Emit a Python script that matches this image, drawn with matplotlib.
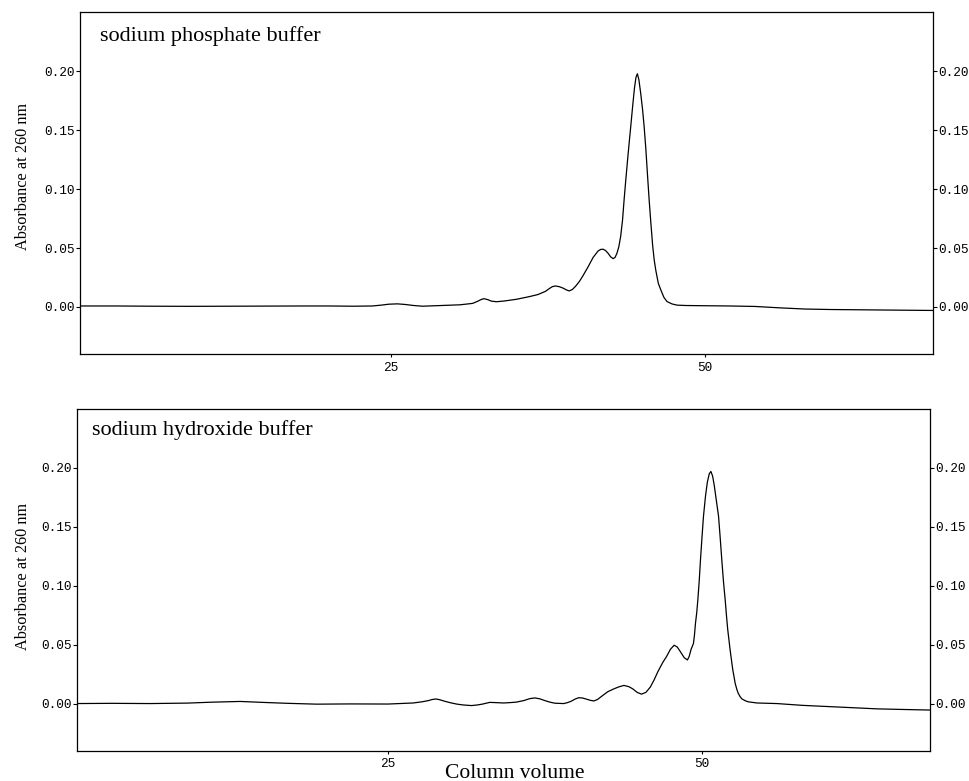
import matplotlib
matplotlib.use("Agg")
import matplotlib.pyplot as plt
from matplotlib.ticker import FormatStrFormatter

# column volume / absorbance
phos_x = [0, 3, 6, 9, 12, 15, 18, 20, 22, 23.5, 24.2, 24.8, 25.5, 26.1, 26.8, 27.5, 29,
          30.5, 31.5, 31.9, 32.2, 32.4, 32.7, 33.0, 33.4, 34, 35, 36, 36.7, 37.3, 37.6,
          37.85, 38.1, 38.4, 38.7, 39.0, 39.2, 39.45, 39.7, 40.0, 40.25, 40.7, 41.1, 41.5,
          41.7, 41.9, 42.1, 42.3, 42.5, 42.7, 42.85, 43.0, 43.15, 43.3, 43.45, 43.57, 43.7,
          43.85, 44.0, 44.1, 44.25, 44.4, 44.52, 44.63, 44.75, 44.9, 45.05, 45.17, 45.3,
          45.45, 45.57, 45.7, 45.85, 45.97, 46.1, 46.3, 46.5, 46.75, 47.0, 47.4, 47.8,
          48.5, 50, 52, 54, 56, 58, 60, 63, 66, 68.2]
phos_y = [0.0008, 0.0008, 0.0006, 0.0005, 0.0006, 0.0007, 0.0008, 0.0008, 0.0006, 0.0008,
          0.0015, 0.0023, 0.0026, 0.0021, 0.0012, 0.0006, 0.0012,
          0.0018, 0.003, 0.0048, 0.0064, 0.0070, 0.0062, 0.0049, 0.0044, 0.005, 0.0065,
          0.0087, 0.0105, 0.0132, 0.0155,
          0.0172, 0.0178, 0.0172, 0.0160, 0.0143, 0.0136, 0.0148, 0.0175, 0.0215, 0.0257,
          0.034, 0.042, 0.0475,
          0.0488, 0.049, 0.0478, 0.0455, 0.0425, 0.041, 0.042, 0.0455, 0.051, 0.060, 0.074,
          0.0907, 0.107,
          0.125, 0.142, 0.153, 0.170, 0.186, 0.195, 0.198, 0.193, 0.181, 0.167, 0.153, 0.135,
          0.110, 0.0907, 0.072, 0.052, 0.040, 0.031, 0.020, 0.0144, 0.008, 0.0045, 0.0025,
          0.0015,
          0.0012, 0.001, 0.0008, 0.0004, -0.0008, -0.0018, -0.0022, -0.0025, -0.0028, -0.003]

hydr_x = [0, 3, 6, 9, 11, 13.2, 15, 17, 19.3, 22, 25, 27, 27.7, 28.2, 28.5, 28.8, 29.1,
          29.5, 30.0, 30.5, 31.0, 31.65, 32.1, 32.5, 33.1, 33.6, 34.2, 34.7, 35.2, 35.8,
          36.3, 36.7, 37.1, 37.5, 37.9, 38.3, 39.0, 39.3, 39.6, 39.9, 40.2, 40.5, 40.8,
          41.1, 41.4, 41.7, 42.0, 42.5, 43.0, 43.4, 43.8, 44.2, 44.5, 44.85, 45.2, 45.55,
          45.9, 46.2, 46.5, 46.9, 47.2, 47.5, 47.8, 48.05, 48.3, 48.6, 48.86, 49.0, 49.15,
          49.34, 49.42, 49.5, 49.6, 49.69, 49.8, 49.9, 50.02, 50.14, 50.3, 50.45, 50.6,
          50.73, 50.87, 51.0, 51.17, 51.34, 51.47, 51.6, 51.73, 51.87, 51.97, 52.07, 52.17,
          52.27, 52.37, 52.47, 52.57, 52.67, 52.8, 52.9, 53.05, 53.2, 53.45, 53.7, 54.4,
          56, 58, 60, 62, 64, 66, 68.2]
hydr_y = [0.0, 0.0002, 0.0, 0.0004, 0.0012, 0.0018, 0.0010, 0.0002, -0.0005, -0.0003,
          -0.0004, 0.0005, 0.0015, 0.0025, 0.0034, 0.0039, 0.0033,
          0.002, 0.0006, -0.0005, -0.0012, -0.0017, -0.0012, -0.0005, 0.001, 0.0008,
          0.0005, 0.0008, 0.0012, 0.0025,
          0.0042, 0.0048, 0.0040, 0.0025, 0.0012, 0.0003, 0.0, 0.0008, 0.002, 0.0038,
          0.005, 0.0047, 0.0038,
          0.0028, 0.0022, 0.0035, 0.006, 0.010, 0.0125, 0.0142, 0.0154, 0.0143, 0.0125,
          0.0095, 0.008, 0.0095,
          0.014, 0.020, 0.027, 0.035, 0.040, 0.046, 0.0495, 0.048, 0.044, 0.039, 0.037,
          0.040, 0.046,
          0.051, 0.058, 0.068, 0.077, 0.088, 0.104, 0.122, 0.141, 0.159, 0.176, 0.188,
          0.195,
          0.197, 0.193, 0.185, 0.172, 0.159, 0.141, 0.122, 0.104, 0.088, 0.075, 0.063,
          0.054,
          0.045, 0.037, 0.029, 0.023, 0.017, 0.012, 0.009, 0.006, 0.004, 0.0025, 0.0015,
          0.0005,
          0.0, -0.0015, -0.0025, -0.0035, -0.0045, -0.005, -0.0055]

panel_titles = ["sodium phosphate buffer", "sodium hydroxide buffer"]
y_ticks = [0.0, 0.05, 0.10, 0.15, 0.20]
x_ticks = [25, 50]

serif = "Liberation Serif"
mono = "Liberation Mono"

fig = plt.figure(figsize=(9.7, 7.81), dpi=100)
ax_top = fig.add_axes([0.0825, 0.5467, 0.8794, 0.4373])
ax_bot = fig.add_axes([0.0794, 0.0388, 0.8794, 0.4375])

panels = [(ax_top, phos_x, phos_y, panel_titles[0], (0.023, 0.9165)),
          (ax_bot, hydr_x, hydr_y, panel_titles[1], (0.018, 0.924))]

for ax, xs, ys, title, pos in panels:
    ax.plot(xs, ys, color='black', linewidth=0.9)
    ax.set_xlim(0.2, 68.2)
    ax.set_ylim(-0.04, 0.25)
    ax.set_yticks(y_ticks)
    ax.set_xticks(x_ticks)
    ax.yaxis.set_major_formatter(FormatStrFormatter('%.2f'))
    ax.tick_params(axis='y', direction='out', length=3, width=0.8, pad=1,
                   left=True, right=True, labelleft=True, labelright=True)
    ax.tick_params(axis='x', direction='out', length=2.5, width=0.8, pad=3)
    for lab in ax.get_xticklabels() + ax.get_yticklabels():
        lab.set_fontfamily(mono)
        lab.set_fontsize(9.2)
    for sp in ax.spines.values():
        sp.set_linewidth(0.9)
    ax.text(pos[0], pos[1], title, transform=ax.transAxes, family=serif,
            fontsize=16, va='baseline', ha='left')

# y labels sit in the left margin, one per panel
fig.text(23.3 / 970, 0.774, "Absorbance at 260 nm", rotation=90, family=serif,
         fontsize=11.7, ha='center', va='center')
fig.text(23.3 / 970, 0.2616, "Absorbance at 260 nm", rotation=90, family=serif,
         fontsize=11.7, ha='center', va='center')

fig.text(515 / 970, 0.004, "Column volume", family=serif, fontsize=15.5,
         ha='center', va='baseline')

plt.savefig("out.png", dpi=100)
